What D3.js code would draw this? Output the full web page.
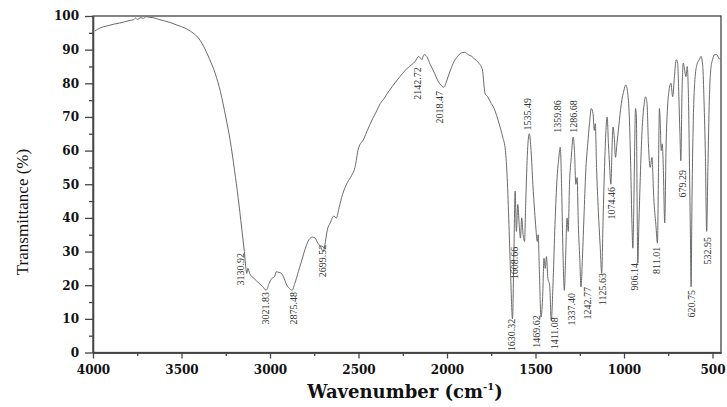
<!DOCTYPE html>
<html>
<head>
<meta charset="utf-8">
<script src="https://cdn.jsdelivr.net/npm/d3@7"></script>
<style>
    body { margin: 0; background: #fff; }
    .tick text { font-family: "DejaVu Serif", serif; font-weight: bold; font-size: 12px; fill: #111; }
    .peak { font-family: "Liberation Serif", serif; font-size: 10px; fill: #333; }
</style>
</head>
<body>
<div id="chart"></div>
<script>
// FTIR spectrum: transmittance vs wavenumber

var wavenumber = [3990, 3970, 3940, 3910, 3880, 3850, 3820, 3790, 3770, 3760, 3750, 3730, 3715, 3700, 3680, 3660, 3630, 3600, 3560, 3520,
    3480, 3450, 3420, 3395, 3370, 3340, 3310, 3280, 3250, 3225, 3200, 3180, 3160, 3145, 3131, 3125, 3115, 3090, 3060, 3040,
    3022, 3005, 2990, 2975, 2965, 2950, 2935, 2920, 2905, 2890, 2875, 2860, 2840, 2820, 2800, 2780, 2760, 2745, 2730, 2715,
    2700, 2690, 2676, 2660, 2640, 2625, 2610, 2590, 2563, 2540, 2520, 2501, 2470, 2450, 2420, 2400, 2377, 2355, 2337, 2310,
    2281, 2250, 2224, 2200, 2180, 2160, 2150, 2143, 2130, 2115, 2094, 2070, 2054, 2035, 2018, 2000, 1980, 1960, 1940, 1920,
    1900, 1880, 1860, 1840, 1820, 1800, 1785, 1770, 1750, 1738, 1720, 1700, 1685, 1670, 1660, 1650, 1640, 1630, 1622, 1615,
    1608, 1600, 1592, 1585, 1578, 1570, 1562, 1555, 1545, 1535, 1525, 1515, 1505, 1498, 1490, 1485, 1478, 1469, 1460, 1452,
    1445, 1438, 1430, 1420, 1411, 1400, 1390, 1378, 1368, 1360, 1352, 1345, 1337, 1330, 1322, 1315, 1308, 1298, 1287, 1280,
    1272, 1265, 1258, 1250, 1243, 1235, 1225, 1215, 1205, 1195, 1185, 1175, 1168, 1162, 1155, 1145, 1135, 1126, 1118, 1110,
    1102, 1095, 1088, 1082, 1074, 1068, 1062, 1055, 1048, 1040, 1030, 1015, 1000, 990, 980, 970, 962, 955, 950, 945,
    940, 935, 930, 926, 922, 916, 908, 898, 888, 878, 870, 862, 852, 842, 832, 820, 811, 805, 800, 795,
    790, 784, 778, 770, 762, 755, 745, 735, 725, 715, 705, 697, 690, 684, 679, 672, 665, 658, 650, 643,
    636, 630, 625, 621, 616, 608, 598, 588, 575, 565, 555, 548, 540, 533, 526, 518, 510, 500, 488, 475,
    465, 455];

var transmittance = [95.5, 96.2, 96.8, 97.2, 97.6, 97.9, 98.3, 98.7, 98.9, 99.4, 99.0, 99.5, 99.3, 99.8, 99.6, 99.5, 99.0, 98.6, 98.0, 97.2,
    96.4, 95.5, 94.3, 92.8, 90.5, 87, 83, 77.5, 70, 63, 54, 46, 37, 30, 23.5, 25, 23.5, 22, 20.5, 19.5,
    18.5, 20.5, 22, 22.5, 24, 23.8, 23.5, 22, 20, 19, 18.5, 20.5, 24, 27.5, 31, 33.5, 34.3, 34, 32.5, 31.5,
    30, 32, 36.5, 38.5, 40.5, 40, 43, 47, 50.5, 52.5, 55, 60.5, 63.5, 66, 69.5, 71.5, 74, 75.5, 77, 79,
    81, 83, 84.5, 85.5, 86.5, 88, 87.5, 87, 88.5, 88, 85.5, 83, 81, 79.5, 78.8, 81, 84, 86.5, 88, 89,
    89.2, 88.5, 88, 87, 86, 84, 77, 76, 74, 73, 70.5, 67, 64, 60, 52, 38, 22, 10, 30, 48,
    36, 44, 38, 34, 40, 35, 33, 45, 60, 65, 60, 50, 42, 37, 33, 35, 24, 10.5, 16, 28,
    25, 28.5, 22, 20, 9.5, 22, 38, 52, 58, 61, 48, 30, 18.5, 28, 40, 36, 50, 58, 64, 60,
    50, 52, 38, 28, 19.5, 28, 42, 55, 62, 68, 72.5, 71, 66, 68, 55, 42, 32, 23.5, 40, 55,
    66, 70, 62, 56, 50, 60, 67, 64, 58, 62, 67, 74, 78, 79.5, 77.5, 70, 55, 38, 31, 42,
    60, 72.5, 70, 45, 26.5, 38, 52, 66, 73, 76, 74, 62, 55, 58, 46, 38, 32.5, 55, 72.5, 68,
    60, 62, 55, 38.5, 62, 72, 78, 80, 76, 82, 87, 86, 76, 65, 57, 78, 86, 84, 82, 85,
    76, 55, 35, 19.5, 45, 70, 82, 85.5, 87, 88, 85, 75, 58, 36, 55, 75, 84, 87, 88.5, 88.5,
    87.5, 87];

var xTicks = [4000, 3500, 3000, 2500, 2000, 1500, 1000, 500];
var xMinorTicks = [3750, 3250, 2750, 2250, 1750, 1250, 750];
var yTicks = [0, 10, 20, 30, 40, 50, 60, 70, 80, 90, 100];
var yMinorTicks = [5, 15, 25, 35, 45, 55, 65, 75, 85, 95];

// peak annotations: label text, where the label sits (cm-1) and the %T at its top end
var peakLabels = ["3130.92", "3021.83", "2875.48", "2699.52", "2142.72", "2018.47", "1630.32", "1608.66", "1535.49", "1469.62", "1411.08",
    "1359.86", "1337.40", "1286.68", "1242.77", "1125.63", "1074.46", "906.14", "811.01", "679.29", "620.75", "532.95"];
var peakLabelWn = [3169, 3028, 2870, 2706, 2164, 2040, 1635, 1616, 1548, 1492, 1390,
    1373, 1299, 1288, 1209, 1124, 1068, 938, 814, 667, 616, 531];
var peakLabelT = [29.6, 18, 18, 32, 84.8, 77.7, 10, 31.4, 75.6, 11.1, 10.5,
    75, 17.7, 75, 19.5, 23.6, 49.2, 26.6, 31.4, 54.2, 18.6, 34.3];

var width = 727;
var height = 407;
var plotLeft = 93, plotRight = 721, plotTop = 16, plotBottom = 352.5;

var svg = d3
    .select("#chart")
    .append("svg")
    .attr("width", width)
    .attr("height", height);

var x = d3.scaleLinear().domain([4000, 452]).range([plotLeft, plotRight]);
var y = d3.scaleLinear().domain([0, 100]).range([plotBottom, plotTop]);

// frame
svg.append("rect")
    .attr("x", plotLeft)
    .attr("y", plotTop)
    .attr("width", plotRight - plotLeft)
    .attr("height", plotBottom - plotTop)
    .attr("fill", "none")
    .attr("stroke", "#444")
    .attr("stroke-width", 1.3);

svg.append("g")
    .attr("transform", "translate(0," + plotBottom + ")")
    .call(d3.axisBottom(x).tickValues(xTicks).tickFormat(d3.format("d")).tickSize(6).tickSizeOuter(0).tickPadding(7));
svg.append("g")
    .attr("transform", "translate(0," + plotBottom + ")")
    .call(d3.axisBottom(x).tickValues(xMinorTicks).tickSize(3.5).tickSizeOuter(0).tickFormat(""));

svg.append("g")
    .attr("transform", "translate(" + plotLeft + ",0)")
    .call(d3.axisLeft(y).tickValues(yTicks).tickSize(8).tickSizeOuter(0).tickPadding(6));
svg.append("g")
    .attr("transform", "translate(" + plotLeft + ",0)")
    .call(d3.axisLeft(y).tickValues(yMinorTicks).tickSize(4).tickSizeOuter(0).tickFormat(""));

svg.selectAll(".domain").attr("stroke", "#444").attr("stroke-width", 1.3);
svg.selectAll(".tick line").attr("stroke", "#444").attr("stroke-width", 1.3);

// spectrum
var spectrum = wavenumber.map(function(d, i) { return [d, transmittance[i]]; });
var line = d3.line()
    .x(function(d) { return x(d[0]); })
    .y(function(d) { return y(d[1]); })
    .curve(d3.curveMonotoneX);

svg.append("path")
    .datum(spectrum)
    .attr("d", line)
    .attr("fill", "none")
    .attr("stroke", "#6a6a6a")
    .attr("stroke-width", 1);

// peak labels, rotated
svg.selectAll(".peak")
    .data(peakLabels)
    .enter()
    .append("text")
    .attr("class", "peak")
    .attr("transform", function(d, i) {
        return "translate(" + x(peakLabelWn[i]) + "," + y(peakLabelT[i]) + ")rotate(-90)";
    })
    .attr("text-anchor", "end")
    .attr("dy", "0.35em")
    .text(function(d) { return d; });

// axis titles
svg.append("text")
    .attr("transform", "translate(28,212)rotate(-90)")
    .attr("text-anchor", "middle")
    .attr("font-family", "Liberation Serif, serif")
    .attr("font-size", 17)
    .attr("fill", "#111")
    .text("Transmittance (%)");

var xTitle = svg.append("text")
    .attr("x", 405)
    .attr("y", 398)
    .attr("text-anchor", "middle")
    .attr("font-family", "DejaVu Serif, serif")
    .attr("font-weight", "bold")
    .attr("font-size", 18)
    .attr("fill", "#111");
xTitle.append("tspan").text("Wavenumber (cm");
xTitle.append("tspan").attr("font-size", 10).attr("dy", -8).text("-1");
xTitle.append("tspan").attr("dy", 8).text(")");
</script>
</body>
</html>
